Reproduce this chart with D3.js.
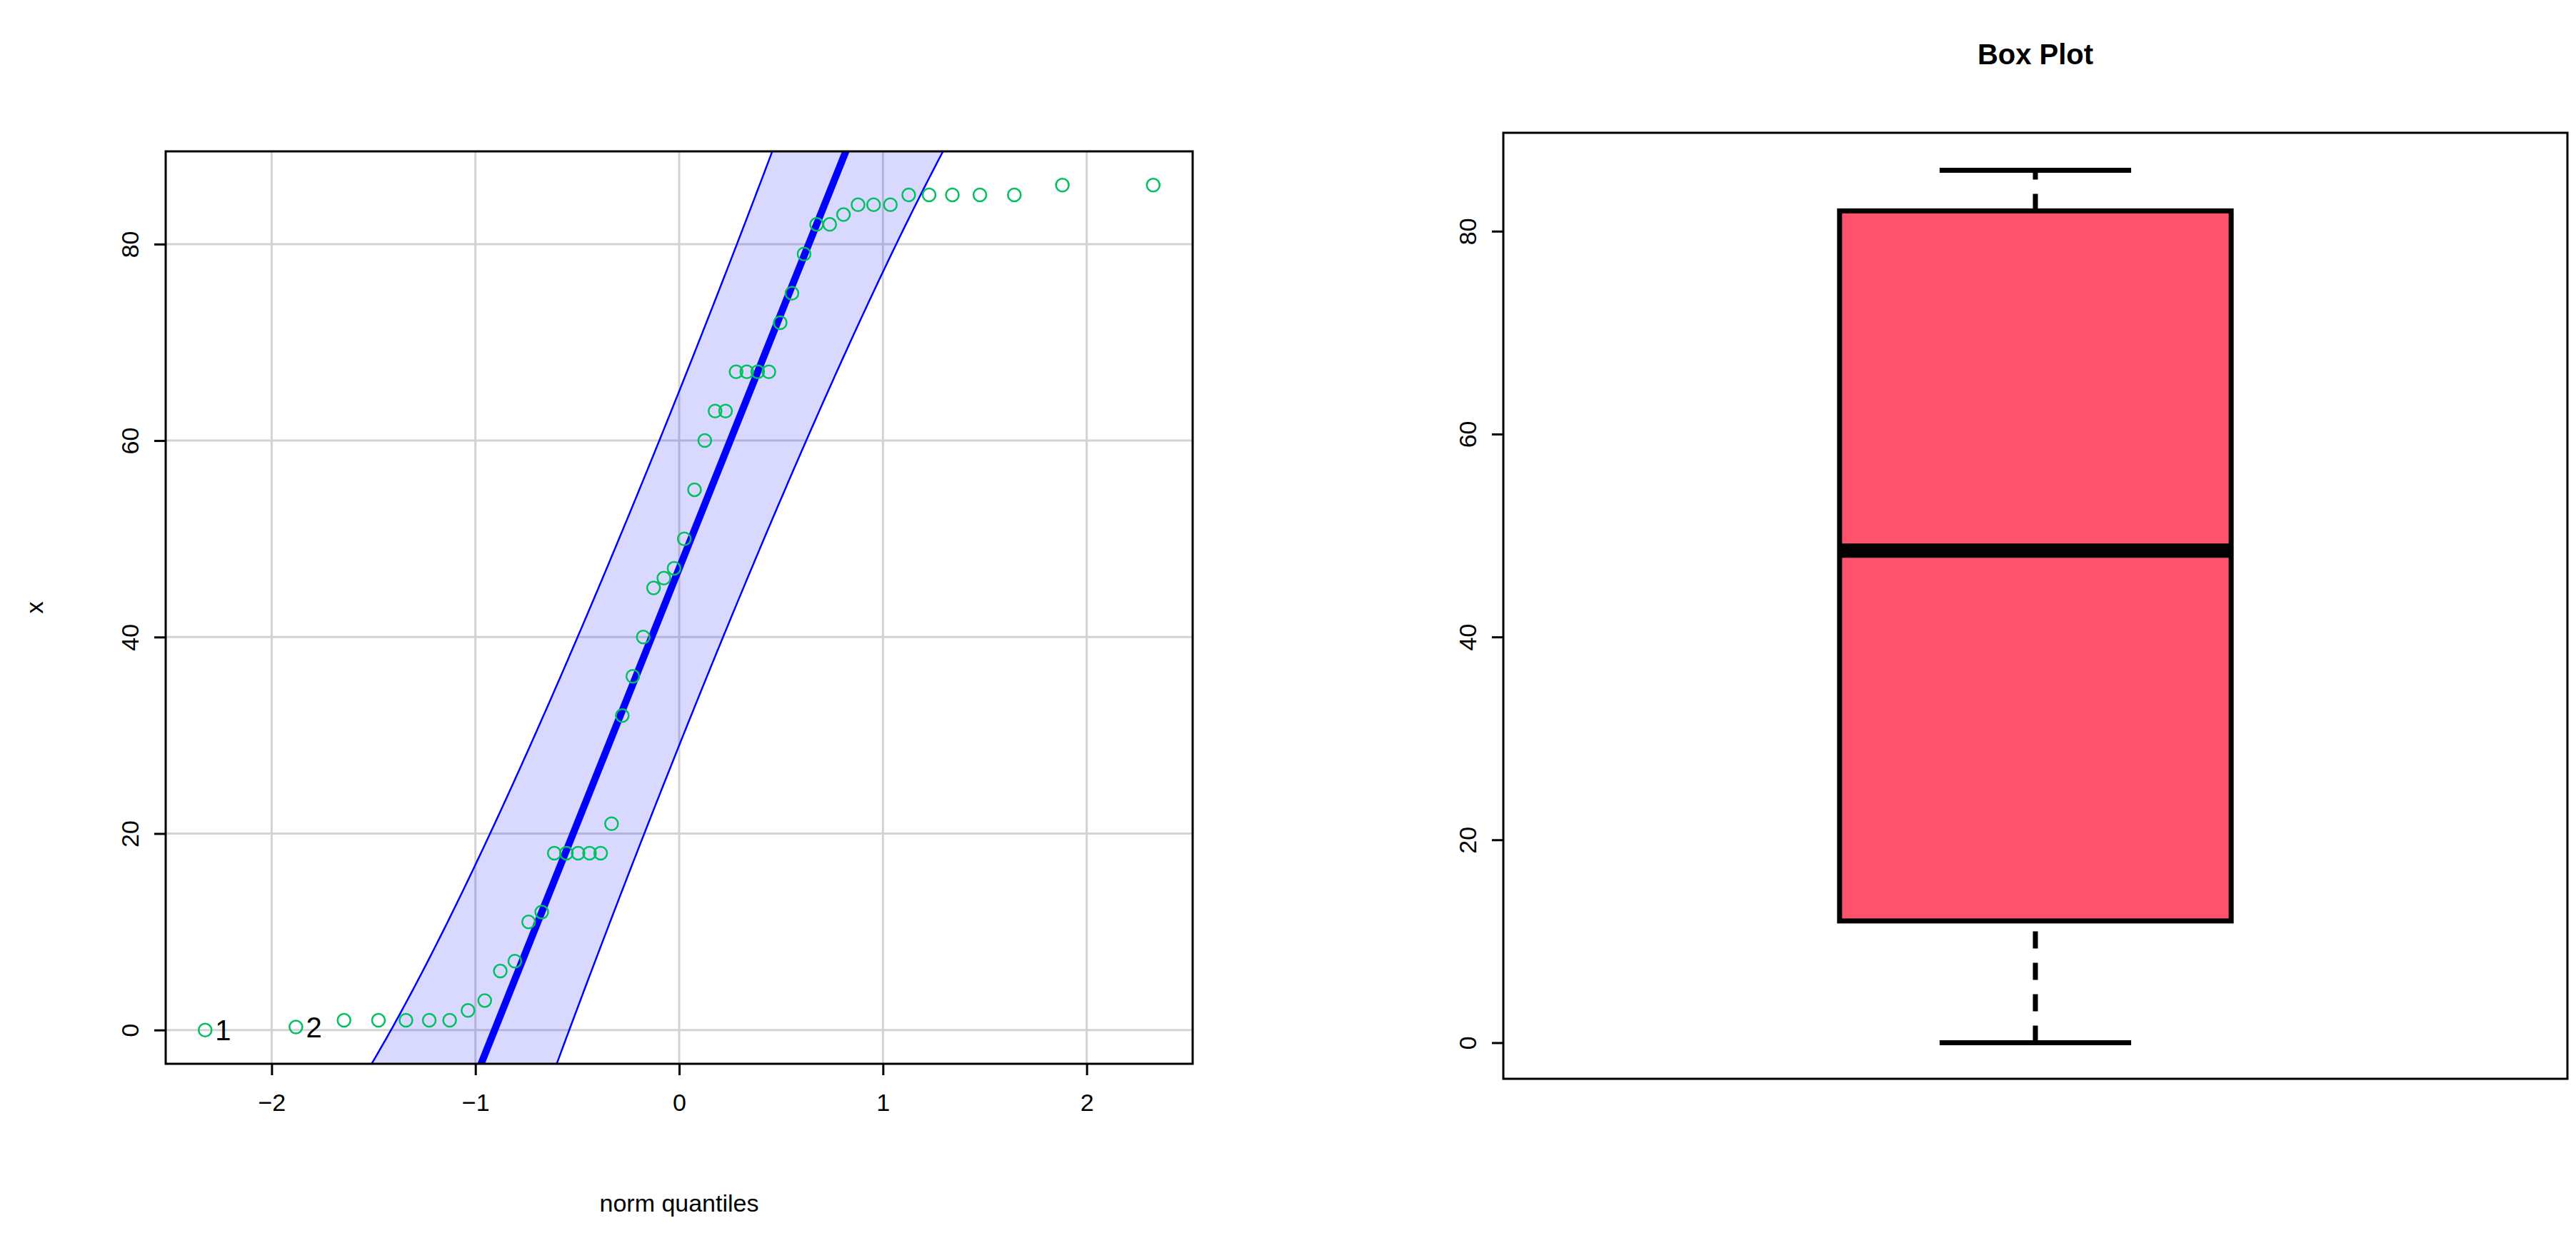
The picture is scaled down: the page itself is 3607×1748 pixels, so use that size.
<!DOCTYPE html>
<html>
<head>
<meta charset="utf-8">
<script src="https://cdn.jsdelivr.net/npm/d3@7"></script>
<style>
  body { margin: 0; background: #fff; }
  text { font-family: "Liberation Sans", Arial, sans-serif; }
</style>
</head>
<body>
<svg id="chart" width="3607" height="1748"></svg>
<script>
// sorted sample values
const values = [0, 0.3, 1, 1, 1, 1, 1, 2, 3, 6,
  7, 11, 12, 18, 18, 18, 18, 18, 21, 32,
  36, 40, 45, 46, 47, 50, 55, 60, 63, 63,
  67, 67, 67, 67, 72, 75, 79, 82, 82, 83,
  84, 84, 84, 85, 85, 85, 85, 85, 86, 86];
const qqTicksX = [-2, -1, 0, 1, 2];
const ticksY = [0, 20, 40, 60, 80];
const pointLabels = ["1", "2"];
// box plot summary
const boxStats = { min: 0, q1: 12, median: 48.5, q3: 82, max: 86 };

const svg = d3.select('#chart');

// inverse normal CDF (Acklam)
function qnorm(p) {
  const a = [-39.6968302866538, 220.946098424521, -275.928510446969, 138.357751867269, -30.6647980661472, 2.50662827745924];
  const b = [-54.4760987982241, 161.585836858041, -155.698979859887, 66.8013118877197, -13.2806815528857];
  const c = [-0.00778489400243029, -0.322396458041136, -2.40075827716184, -2.54973253934373, 4.37466414146497, 2.93816398269878];
  const d = [0.00778469570904146, 0.32246712907004, 2.445134137143, 3.75440866190742];
  const pl = 0.02425;
  let q, r;
  if (p < pl) {
    q = Math.sqrt(-2 * Math.log(p));
    return (((((c[0]*q+c[1])*q+c[2])*q+c[3])*q+c[4])*q+c[5]) / ((((d[0]*q+d[1])*q+d[2])*q+d[3])*q+1);
  } else if (p <= 1 - pl) {
    q = p - 0.5; r = q * q;
    return (((((a[0]*r+a[1])*r+a[2])*r+a[3])*r+a[4])*r+a[5])*q / (((((b[0]*r+b[1])*r+b[2])*r+b[3])*r+b[4])*r+1);
  }
  q = Math.sqrt(-2 * Math.log(1 - p));
  return -(((((c[0]*q+c[1])*q+c[2])*q+c[3])*q+c[4])*q+c[5]) / ((((d[0]*q+d[1])*q+d[2])*q+d[3])*q+1);
}
const dnorm = z => Math.exp(-z * z / 2) / Math.sqrt(2 * Math.PI);

const n = values.length;
const pts = values.map((v, i) => ({ z: qnorm((i + 1 - 0.5) / n), v, i }));

// ---------- left: QQ plot ----------
const L = { x0: 232, x1: 1670, y0: 212, y1: 1490 };
const x = d3.scaleLinear().domain([-2.52, 2.52]).range([L.x0, L.x1]);
const y = d3.scaleLinear().domain([-3.44, 89.44]).range([L.y1, L.y0]);

const defs = svg.append('defs');
defs.append('clipPath').attr('id', 'clipL')
  .append('rect').attr('x', L.x0).attr('y', L.y0)
  .attr('width', L.x1 - L.x0).attr('height', L.y1 - L.y0);

const gL = svg.append('g');
const plotL = gL.append('g').attr('clip-path', 'url(#clipL)');

// grid
plotL.selectAll('.gx').data(qqTicksX).join('line')
  .attr('x1', d => x(d)).attr('x2', d => x(d)).attr('y1', L.y0).attr('y2', L.y1)
  .attr('stroke', '#d3d3d3').attr('stroke-width', 3);
plotL.selectAll('.gy').data(ticksY).join('line')
  .attr('y1', d => y(d)).attr('y2', d => y(d)).attr('x1', L.x0).attr('x2', L.x1)
  .attr('stroke', '#d3d3d3').attr('stroke-width', 3);

// reference line through quartiles + confidence envelope
const zq1 = qnorm(0.25), zq3 = qnorm(0.75);
const slope = (boxStats.q3 - boxStats.q1) / (zq3 - zq1);
const intercept = boxStats.q1 - slope * zq1;
const zs = d3.range(1, 400).map(i => qnorm(i / 400));
const band = zs.map(z => {
  const P = (function () { return 0.5 * (1 + erf(z / Math.SQRT2)); })();
  const se = slope / dnorm(z) * Math.sqrt(P * (1 - P) / n);
  const fit = intercept + slope * z;
  return { z, lo: fit - 1.96 * se, hi: fit + 1.96 * se };
});
function erf(t) {
  const s = Math.sign(t); t = Math.abs(t);
  const k = 1 / (1 + 0.3275911 * t);
  const yv = 1 - (((((1.061405429 * k - 1.453152027) * k) + 1.421413741) * k - 0.284496736) * k + 0.254829592) * k * Math.exp(-t * t);
  return s * yv;
}
plotL.append('path')
  .attr('d', d3.area().x(d => x(d.z)).y0(d => y(d.lo)).y1(d => y(d.hi))(band))
  .attr('fill', 'rgba(0,0,255,0.15)');
[['lo'], ['hi']].forEach(([k]) => {
  plotL.append('path')
    .attr('d', d3.line().x(d => x(d.z)).y(d => y(d[k]))(band))
    .attr('fill', 'none').attr('stroke', '#0000ff').attr('stroke-width', 2.5);
});
plotL.append('line')
  .attr('x1', x(-3)).attr('y1', y(intercept - 3 * slope))
  .attr('x2', x(3)).attr('y2', y(intercept + 3 * slope))
  .attr('stroke', '#0000ff').attr('stroke-width', 10);

// points
plotL.selectAll('circle').data(pts).join('circle')
  .attr('cx', d => x(d.z)).attr('cy', d => y(d.v)).attr('r', 9)
  .attr('fill', 'none').attr('stroke', '#00c060').attr('stroke-width', 2.5);
plotL.selectAll('.lab').data(pts.slice(0, 2)).join('text')
  .attr('x', d => x(d.z) + 14).attr('y', d => y(d.v) + 14)
  .attr('font-size', 40).attr('fill', '#000')
  .text((d, i) => pointLabels[i]);

// frame + axes
gL.append('rect').attr('x', L.x0).attr('y', L.y0)
  .attr('width', L.x1 - L.x0).attr('height', L.y1 - L.y0)
  .attr('fill', 'none').attr('stroke', '#000').attr('stroke-width', 3);
gL.append('g').attr('transform', `translate(0,${L.y1})`)
  .call(d3.axisBottom(x).tickValues(qqTicksX).tickSize(16).tickPadding(26).tickFormat(d3.format('d')))
  .call(g => g.select('.domain').remove())
  .call(g => g.selectAll('line').attr('stroke-width', 3))
  .call(g => g.selectAll('text').attr('font-size', 34).attr('font-family', '"Liberation Sans", Arial'));
gL.append('g').attr('transform', `translate(${L.x0},0)`)
  .call(d3.axisLeft(y).tickValues(ticksY).tickSize(16).tickFormat(d3.format('d')))
  .call(g => g.select('.domain').remove())
  .call(g => g.selectAll('line').attr('stroke-width', 3))
  .call(g => g.selectAll('text').attr('font-size', 34).attr('font-family', '"Liberation Sans", Arial')
    .attr('text-anchor', 'middle').attr('transform', 'rotate(-90)')
    .attr('x', 0).attr('dy', 0).attr('y', -38));
// rotated labels need position swap
gL.selectAll('.tick').filter(function () { return this.parentNode.getAttribute('transform').startsWith('translate(232'); });
gL.append('text').attr('x', (L.x0 + L.x1) / 2).attr('y', 1697)
  .attr('text-anchor', 'middle').attr('font-size', 34).text('norm quantiles');
gL.append('text').attr('transform', `translate(60,${(L.y0 + L.y1) / 2}) rotate(-90)`)
  .attr('text-anchor', 'middle').attr('font-size', 34).text('x');

// ---------- right: box plot ----------
const R = { x0: 2105, x1: 3595, y0: 186, y1: 1511 };
const yb = d3.scaleLinear().domain([-3.56, 89.7]).range([R.y1, R.y0]);
const xb = d3.scaleLinear().domain([0.5, 1.5]).range([R.x0, R.x1]);
const gR = svg.append('g');
const bw = 0.4, cw = 0.2;
gR.append('rect').attr('x', R.x0).attr('y', R.y0)
  .attr('width', R.x1 - R.x0).attr('height', R.y1 - R.y0)
  .attr('fill', 'none').attr('stroke', '#000').attr('stroke-width', 3);
[[boxStats.q3, boxStats.max], [boxStats.min, boxStats.q1]].forEach(([a, b]) => {
  gR.append('line').attr('x1', xb(1)).attr('x2', xb(1)).attr('y1', yb(a)).attr('y2', yb(b))
    .attr('stroke', '#000').attr('stroke-width', 7).attr('stroke-dasharray', '24,20');
});
[boxStats.min, boxStats.max].forEach(v => {
  gR.append('line').attr('x1', xb(1 - cw / 2 * 0.9)).attr('x2', xb(1 + cw / 2 * 0.9))
    .attr('y1', yb(v)).attr('y2', yb(v)).attr('stroke', '#000').attr('stroke-width', 7);
});
gR.append('rect').attr('x', xb(1 - bw / 2 * 0.92)).attr('y', yb(boxStats.q3))
  .attr('width', xb(1 + bw / 2 * 0.92) - xb(1 - bw / 2 * 0.92))
  .attr('height', yb(boxStats.q1) - yb(boxStats.q3))
  .attr('fill', '#ff526c').attr('stroke', '#000').attr('stroke-width', 7);
gR.append('line').attr('x1', xb(1 - bw / 2 * 0.92)).attr('x2', xb(1 + bw / 2 * 0.92))
  .attr('y1', yb(boxStats.median)).attr('y2', yb(boxStats.median))
  .attr('stroke', '#000').attr('stroke-width', 20);
gR.append('g').attr('transform', `translate(${R.x0},0)`)
  .call(d3.axisLeft(yb).tickValues(ticksY).tickSize(16).tickFormat(d3.format('d')))
  .call(g => g.select('.domain').remove())
  .call(g => g.selectAll('line').attr('stroke-width', 3))
  .call(g => g.selectAll('text').attr('font-size', 34).attr('font-family', '"Liberation Sans", Arial')
    .attr('text-anchor', 'middle').attr('transform', 'rotate(-90)')
    .attr('x', 0).attr('dy', 0).attr('y', -38));
svg.append('text').attr('x', (R.x0 + R.x1) / 2).attr('y', 90)
  .attr('text-anchor', 'middle').attr('font-size', 40).attr('font-weight', 'bold').text('Box Plot');
</script>
</body>
</html>
